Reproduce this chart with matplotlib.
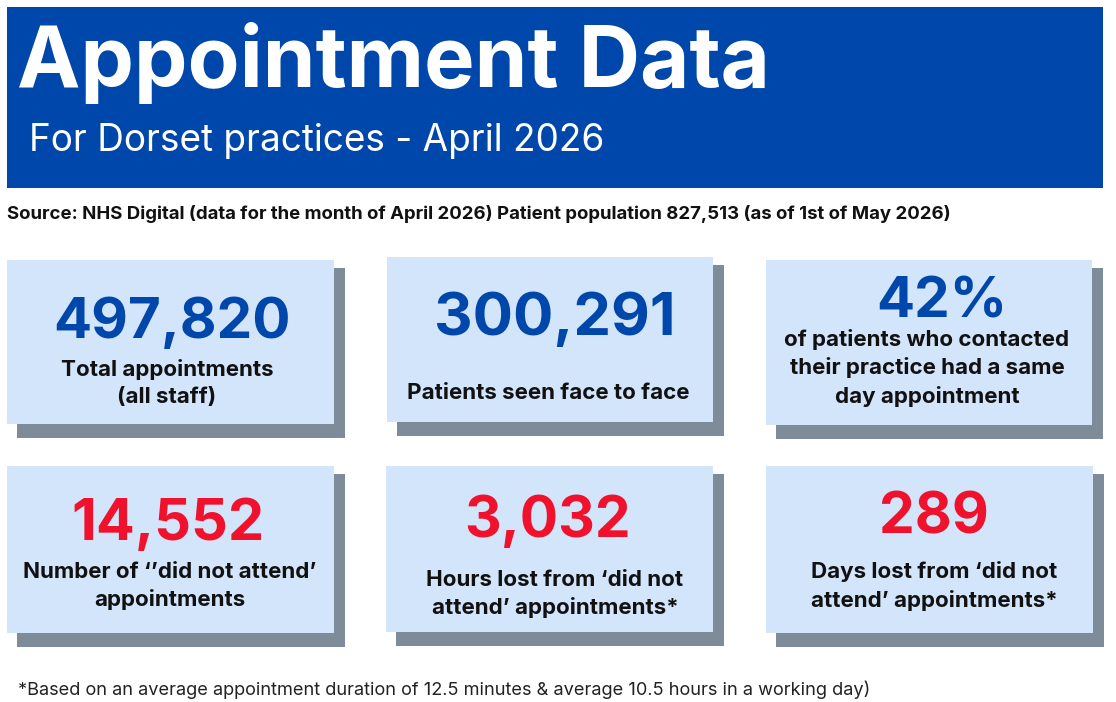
import matplotlib
matplotlib.use("Agg")
import matplotlib.pyplot as plt
from matplotlib.patches import Rectangle

W, H = 1116, 702
BLUE = "#0047AB"; RED = "#F0122D"; CARD = "#D3E5FA"; SHADOW = "#7E8C99"; DARK = "#111111"

title = "Appointment Data"
subtitle = "For Dorset practices - April 2026"
source = "Source: NHS Digital (data for the month of April 2026) Patient population 827,513 (as of 1st of May 2026)"
footnote = "*Based on an average appointment duration of 12.5 minutes & average 10.5 hours in a working day)"
values = ["497,820", "300,291", "42%", "14,552", "3,032", "289"]
captions = ["Total appointments\n(all staff)", "Patients seen face to face",
            "of patients who contacted\ntheir practice had a same\nday appointment",
            "Number of ‘’did not attend’\nappointments", "Hours lost from ‘did not\nattend’ appointments*",
            "Days lost from ‘did not\nattend’ appointments*"]
colors = [BLUE, BLUE, BLUE, RED, RED, RED]

# layout (pixels)
boxes = [(7, 260, 327, 164), (387, 257, 326, 165), (766, 260, 326, 165),
         (7, 466, 327, 167), (386, 466, 327, 166), (766, 466, 327, 167)]
value_xy = [(171.5, 338), (555, 335), (942, 317), (168, 540), (548, 537), (934, 533)]
value_size = [40.7, 43, 40.7, 41.5, 41, 41]
caption_xy = [(167, 383), (548, 393), (927, 368), (170, 586), (555, 594), (934, 586)]

fig = plt.figure(figsize=(W/100, H/100), dpi=100, facecolor="white")
ax = fig.add_axes([0, 0, 1, 1]); ax.set_xlim(0, W); ax.set_ylim(H, 0); ax.axis("off")
F = "Inter"

ax.add_patch(Rectangle((7, 7), 1096, 181, color=BLUE, lw=0))
ax.text(17, 63, title, color="white", fontsize=61.2, fontweight="bold", family=F, va="center")
ax.text(29, 141, subtitle, color="white", fontsize=26.6, family=F, va="center")
ax.text(7, 214, source, color=DARK, fontsize=13.4, fontweight="bold", family=F, va="center")
ax.text(18, 690, footnote, color="#222222", fontsize=13.1, family=F, va="center")

for (x, y, w, h), v, c, col, (vx, vy), vs, (cx, cy) in zip(boxes, values, captions, colors, value_xy, value_size, caption_xy):
    ax.add_patch(Rectangle((x+10, y+8), w+1, h+6, color=SHADOW, lw=0))
    ax.add_patch(Rectangle((x, y), w, h, color=CARD, lw=0))
    ax.text(vx, vy, v, color=col, fontsize=vs, fontweight="bold", family=F, ha="center", va="baseline")
    ax.text(cx, cy, c, color=DARK, fontsize=16.1, fontweight="bold", family=F, ha="center", va="center", linespacing=1.42)

fig.savefig("out.png", dpi=100, facecolor="white")
